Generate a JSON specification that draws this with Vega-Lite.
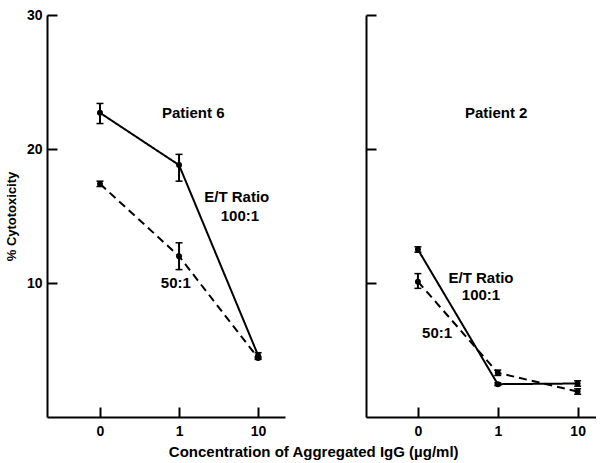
{
  "$schema": "https://vega.github.io/schema/vega-lite/v6.json",
  "padding": {"left": 5, "top": 8, "right": 0, "bottom": 0},
  "background": "white",
  "config": {
    "view": {"stroke": null},
    "font": "Liberation Sans",
    "axis": {
      "grid": false,
      "domainColor": "black",
      "domainWidth": 2,
      "tickColor": "black",
      "tickWidth": 2,
      "tickSize": -10,
      "labelFont": "Liberation Sans",
      "labelFontWeight": "bold",
      "labelFontSize": 14,
      "labelColor": "black",
      "titleFont": "Liberation Sans",
      "titleFontWeight": "bold",
      "titleFontSize": 13,
      "titleColor": "black"
    }
  },
  "title": {
    "text": "Concentration of Aggregated IgG (µg/ml)",
    "orient": "bottom",
    "anchor": "middle",
    "dx": 13,
    "offset": 7,
    "fontSize": 15,
    "fontWeight": "bold",
    "font": "Liberation Sans",
    "color": "black"
  },
  "datasets": {
    "pts": [
      {"panel": "Patient 6", "ratio": "100:1", "pos": 0, "value": 22.7, "lo": 21.9, "hi": 23.4},
      {"panel": "Patient 6", "ratio": "100:1", "pos": 1, "value": 18.8, "lo": 17.6, "hi": 19.6},
      {"panel": "Patient 6", "ratio": "100:1", "pos": 2, "value": 4.6, "lo": 4.4, "hi": 4.8},
      {"panel": "Patient 6", "ratio": "50:1", "pos": 0, "value": 17.4, "lo": 17.2, "hi": 17.6},
      {"panel": "Patient 6", "ratio": "50:1", "pos": 1, "value": 12.0, "lo": 11.0, "hi": 13.0},
      {"panel": "Patient 6", "ratio": "50:1", "pos": 2, "value": 4.4, "lo": 4.3, "hi": 4.5},
      {"panel": "Patient 2", "ratio": "100:1", "pos": 0, "value": 12.5, "lo": 12.3, "hi": 12.7},
      {"panel": "Patient 2", "ratio": "100:1", "pos": 1, "value": 2.45, "lo": 2.35, "hi": 2.55},
      {"panel": "Patient 2", "ratio": "100:1", "pos": 2, "value": 2.5, "lo": 2.3, "hi": 2.7},
      {"panel": "Patient 2", "ratio": "50:1", "pos": 0, "value": 10.1, "lo": 9.6, "hi": 10.7},
      {"panel": "Patient 2", "ratio": "50:1", "pos": 1, "value": 3.3, "lo": 3.1, "hi": 3.5},
      {"panel": "Patient 2", "ratio": "50:1", "pos": 2, "value": 1.9, "lo": 1.7, "hi": 2.1}
    ],
    "labels": [
      {"panel": "Patient 6", "pos": 1.18, "value": 22.7, "text": "Patient 6"},
      {"panel": "Patient 6", "pos": 1.73, "value": 16.4, "text": "E/T Ratio"},
      {"panel": "Patient 6", "pos": 1.77, "value": 15.0, "text": "100:1"},
      {"panel": "Patient 6", "pos": 0.96, "value": 10.0, "text": "50:1"},
      {"panel": "Patient 2", "pos": 0.98, "value": 22.7, "text": "Patient 2"},
      {"panel": "Patient 2", "pos": 0.79, "value": 10.4, "text": "E/T Ratio"},
      {"panel": "Patient 2", "pos": 0.79, "value": 9.1, "text": "100:1"},
      {"panel": "Patient 2", "pos": 0.24, "value": 6.3, "text": "50:1"}
    ]
  },
  "spacing": 80,
  "hconcat": [
    {
      "width": 238,
      "height": 402,
      "encoding": {
        "x": {"field": "pos", "type": "quantitative", "scale": {"domain": [-0.67, 2.34], "nice": false, "zero": false},
              "axis": {"values": [0, 1, 2], "labelExpr": "datum.value == 2 ? '10' : datum.label", "title": null, "labelPadding": 17, "labelFontSize": 14, "labelFontWeight": "bold", "labelFont": "Liberation Sans", "labelColor": "black"}},
        "y": {"field": "value", "type": "quantitative", "scale": {"domain": [0, 30], "nice": false},
              "axis": {"values": [10, 20, 30], "title": "% Cytotoxicity", "titlePadding": 8, "titleFontSize": 13, "labelPadding": 15, "labelFontSize": 14, "labelFontWeight": "bold", "labelFont": "Liberation Sans", "labelColor": "black"}}
      },
      "layer": [
        {
          "data": {"name": "pts"},
          "transform": [{"filter": "datum.panel == 'Patient 6'"}],
          "mark": {"type": "line", "color": "black", "strokeWidth": 2},
          "encoding": {
            "strokeDash": {"field": "ratio", "type": "nominal", "scale": {"domain": ["100:1", "50:1"], "range": [[1, 0], [8, 5]]}, "legend": null}
          }
        },
        {
          "data": {"name": "pts"},
          "transform": [{"filter": "datum.panel == 'Patient 6'"}],
          "mark": {"type": "point", "filled": true, "color": "black", "size": 35, "opacity": 1},
          "encoding": {"detail": {"field": "ratio"}}
        },
        {
          "data": {"name": "pts"},
          "transform": [{"filter": "datum.panel == 'Patient 6'"}],
          "mark": {"type": "rule", "color": "black", "strokeWidth": 2},
          "encoding": {"y": {"field": "lo", "type": "quantitative"}, "y2": {"field": "hi"}}
        },
        {
          "data": {"name": "pts"},
          "transform": [{"filter": "datum.panel == 'Patient 6'"}],
          "mark": {"type": "tick", "orient": "horizontal", "color": "black", "size": 7, "thickness": 1.5, "opacity": 1},
          "encoding": {"y": {"field": "lo", "type": "quantitative"}}
        },
        {
          "data": {"name": "pts"},
          "transform": [{"filter": "datum.panel == 'Patient 6'"}],
          "mark": {"type": "tick", "orient": "horizontal", "color": "black", "size": 7, "thickness": 1.5, "opacity": 1},
          "encoding": {"y": {"field": "hi", "type": "quantitative"}}
        },
        {
          "data": {"name": "labels"},
          "transform": [{"filter": "datum.panel == 'Patient 6'"}],
          "mark": {"type": "text", "font": "Liberation Sans", "fontWeight": "bold", "fontSize": 15, "color": "black", "align": "center", "baseline": "middle"},
          "encoding": {"text": {"field": "text"}}
        }
      ]
    },
    {
      "width": 230,
      "height": 402,
      "encoding": {
        "x": {"field": "pos", "type": "quantitative", "scale": {"domain": [-0.65, 2.23], "nice": false, "zero": false},
              "axis": {"values": [0, 1, 2], "labelExpr": "datum.value == 2 ? '10' : datum.label", "title": null, "labelPadding": 17, "labelFontSize": 14, "labelFontWeight": "bold", "labelFont": "Liberation Sans", "labelColor": "black"}},
        "y": {"field": "value", "type": "quantitative", "scale": {"domain": [0, 30], "nice": false},
              "axis": {"values": [10, 20, 30], "title": null, "labels": false}}
      },
      "layer": [
        {
          "data": {"name": "pts"},
          "transform": [{"filter": "datum.panel == 'Patient 2'"}],
          "mark": {"type": "line", "color": "black", "strokeWidth": 2},
          "encoding": {
            "strokeDash": {"field": "ratio", "type": "nominal", "scale": {"domain": ["100:1", "50:1"], "range": [[1, 0], [8, 5]]}, "legend": null}
          }
        },
        {
          "data": {"name": "pts"},
          "transform": [{"filter": "datum.panel == 'Patient 2'"}],
          "mark": {"type": "point", "filled": true, "color": "black", "size": 35, "opacity": 1},
          "encoding": {"detail": {"field": "ratio"}}
        },
        {
          "data": {"name": "pts"},
          "transform": [{"filter": "datum.panel == 'Patient 2'"}],
          "mark": {"type": "rule", "color": "black", "strokeWidth": 2},
          "encoding": {"y": {"field": "lo", "type": "quantitative"}, "y2": {"field": "hi"}}
        },
        {
          "data": {"name": "pts"},
          "transform": [{"filter": "datum.panel == 'Patient 2'"}],
          "mark": {"type": "tick", "orient": "horizontal", "color": "black", "size": 7, "thickness": 1.5, "opacity": 1},
          "encoding": {"y": {"field": "lo", "type": "quantitative"}}
        },
        {
          "data": {"name": "pts"},
          "transform": [{"filter": "datum.panel == 'Patient 2'"}],
          "mark": {"type": "tick", "orient": "horizontal", "color": "black", "size": 7, "thickness": 1.5, "opacity": 1},
          "encoding": {"y": {"field": "hi", "type": "quantitative"}}
        },
        {
          "data": {"name": "labels"},
          "transform": [{"filter": "datum.panel == 'Patient 2'"}],
          "mark": {"type": "text", "font": "Liberation Sans", "fontWeight": "bold", "fontSize": 15, "color": "black", "align": "center", "baseline": "middle"},
          "encoding": {"text": {"field": "text"}}
        }
      ]
    }
  ]
}
